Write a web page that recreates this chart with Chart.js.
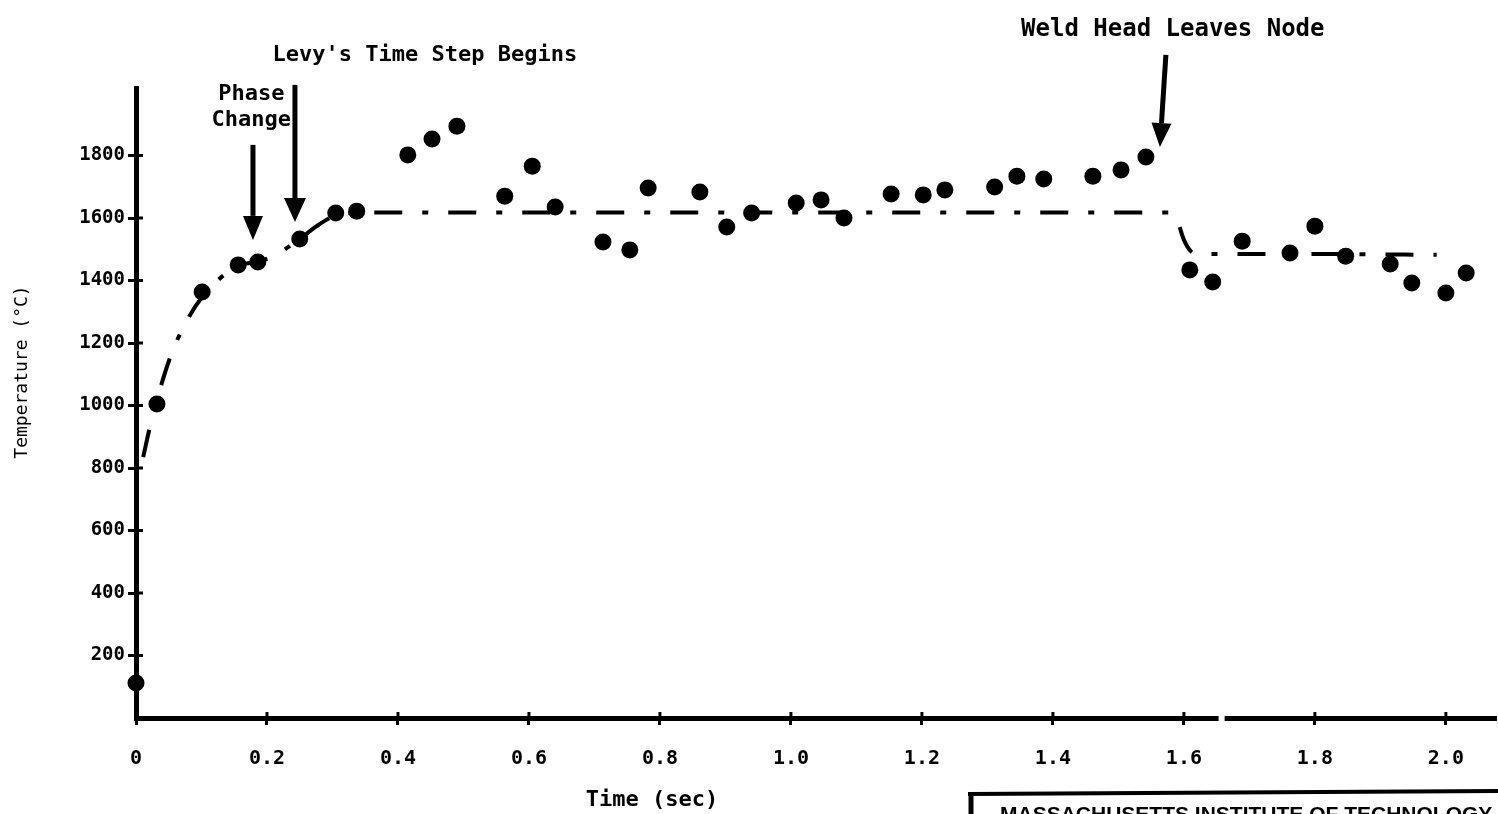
<!DOCTYPE html>
<html>
<head>
<meta charset="utf-8">
<script src="https://cdn.jsdelivr.net/npm/chart.js@4.4.0/dist/chart.umd.min.js"></script>
<style>
  html, body { margin: 0; padding: 0; background: #fff; overflow: hidden; }
  #wrap { width: 1498px; height: 814px; position: relative; }
</style>
</head>
<body>
<div id="wrap"><canvas id="c"></canvas></div>
<script>
// measured temperatures (sec, °C)
const obsTime = [0, 0.032, 0.101, 0.156, 0.186, 0.250, 0.305, 0.337, 0.415, 0.452, 0.490,
  0.563, 0.605, 0.640, 0.713, 0.754, 0.782, 0.861, 0.902, 0.940, 1.008, 1.046, 1.081,
  1.153, 1.202, 1.235, 1.311, 1.345, 1.386, 1.461, 1.504, 1.542,
  1.609, 1.644, 1.689, 1.762, 1.800, 1.847, 1.915, 1.948, 2.000, 2.031];
const obsTemp = [112, 1005, 1363, 1450, 1459, 1533, 1616, 1622, 1802, 1853, 1894,
  1670, 1766, 1635, 1523, 1498, 1696, 1683, 1571, 1616, 1648, 1658, 1600,
  1677, 1674, 1690, 1699, 1734, 1725, 1734, 1754, 1795,
  1434, 1395, 1526, 1488, 1574, 1478, 1453, 1392, 1360, 1424];

// dashed curve (model)
const fitTime = [0.011, 0.02, 0.035, 0.055, 0.08, 0.10, 0.13, 0.16, 0.19, 0.22, 0.25, 0.28,
  0.31, 0.35, 0.6, 1.0, 1.4, 1.578, 1.59, 1.60, 1.61, 1.62, 1.8, 1.986];
const fitTemp = [835, 920, 1040, 1170, 1280, 1345, 1410, 1450, 1462, 1490, 1533, 1580,
  1612, 1618, 1618, 1618, 1618, 1618, 1590, 1530, 1495, 1485, 1485, 1482];

const xTicks = [0, 0.2, 0.4, 0.6, 0.8, 1.0, 1.2, 1.4, 1.6, 1.8, 2.0];
const yTicks = [200, 400, 600, 800, 1000, 1200, 1400, 1600, 1800];

const FONT = '"DejaVu Sans Mono", "Liberation Mono", monospace';

// arrows + notes, placed in data units
const notes = [
  { lines: ['Phase', 'Change'], x: 0.176, y: [1997, 1914], size: 22 },
  { lines: ["Levy's Time Step Begins"], x: 0.441, y: [2122], size: 22 },
  { lines: ['Weld Head Leaves Node'], x: 1.583, y: [2202], size: 24 }
];
const arrows = [
  { x1: 0.1786, y1: 1834, x2: 0.1786, y2: 1530, head: 20 },
  { x1: 0.2427, y1: 2026, x2: 0.2427, y2: 1587, head: 22 },
  { x1: 1.5725, y1: 2122, x2: 1.5634, y2: 1827, head: 20 }
];

const extras = {
  id: 'extras',
  afterDraw(chart) {
    const ctx = chart.ctx;
    const xs = chart.scales.x, ys = chart.scales.y;
    ctx.save();
    ctx.fillStyle = '#000';
    ctx.strokeStyle = '#000';

    // cross tick marks on the inner side
    ctx.lineWidth = 3;
    yTicks.forEach(v => {
      const py = ys.getPixelForValue(v);
      ctx.beginPath(); ctx.moveTo(xs.left, py); ctx.lineTo(xs.left + 7, py); ctx.stroke();
    });
    xTicks.forEach(v => {
      if (v === 0) return;
      const px = xs.getPixelForValue(v);
      ctx.beginPath(); ctx.moveTo(px, ys.bottom); ctx.lineTo(px, ys.bottom - 6); ctx.stroke();
    });

    // break in the time axis
    ctx.fillStyle = '#fff';
    ctx.fillRect(xs.getPixelForValue(1.653), ys.bottom - 6, 6, 14);
    ctx.fillStyle = '#000';

    // arrows
    arrows.forEach(a => {
      const x1 = xs.getPixelForValue(a.x1), y1 = ys.getPixelForValue(a.y1);
      const x2 = xs.getPixelForValue(a.x2), y2 = ys.getPixelForValue(a.y2);
      const ang = Math.atan2(y2 - y1, x2 - x1);
      const hl = 24, hw = a.head / 2;
      const bx = x2 - hl * Math.cos(ang), by = y2 - hl * Math.sin(ang);
      ctx.lineWidth = 5;
      ctx.beginPath(); ctx.moveTo(x1, y1); ctx.lineTo(bx, by); ctx.stroke();
      ctx.beginPath();
      ctx.moveTo(x2, y2);
      ctx.lineTo(bx + hw * Math.sin(ang), by - hw * Math.cos(ang));
      ctx.lineTo(bx - hw * Math.sin(ang), by + hw * Math.cos(ang));
      ctx.closePath(); ctx.fill();
    });

    // notes
    ctx.textAlign = 'center';
    ctx.textBaseline = 'middle';
    notes.forEach(n => {
      ctx.font = 'bold ' + n.size + 'px ' + FONT;
      n.lines.forEach((t, i) => ctx.fillText(t, xs.getPixelForValue(n.x), ys.getPixelForValue(n.y[i])));
    });

    // axis titles
    ctx.font = 'bold 22px ' + FONT;
    ctx.fillText('Time (sec)', 652, 800);
    ctx.save();
    ctx.translate(22, 372);
    ctx.rotate(-Math.PI / 2);
    ctx.font = '18px ' + FONT;
    ctx.fillText('Temperature (°C)', 0, 0);
    ctx.restore();

    // title block at the bottom right
    ctx.lineWidth = 4;
    ctx.beginPath(); ctx.moveTo(968, 794); ctx.lineTo(1498, 791); ctx.stroke();
    ctx.lineWidth = 5;
    ctx.beginPath(); ctx.moveTo(971, 792); ctx.lineTo(971, 814); ctx.stroke();
    ctx.font = 'bold 21px "Liberation Sans", Arial, sans-serif';
    ctx.textAlign = 'left';
    ctx.textBaseline = 'top';
    ctx.fillText('MASSACHUSETTS INSTITUTE OF TECHNOLOGY', 1000, 805);
    ctx.restore();
  }
};

new Chart(document.getElementById('c'), {
  type: 'scatter',
  data: {
    datasets: [
      {
        label: 'Measured',
        data: obsTime.map((t, i) => ({ x: t, y: obsTemp[i] })),
        pointRadius: 8.5,
        pointBackgroundColor: '#000',
        pointBorderWidth: 0,
        showLine: false,
        clip: false
      },
      {
        label: 'Model',
        data: fitTime.map((t, i) => ({ x: t, y: fitTemp[i] })),
        showLine: true,
        borderColor: '#000',
        borderWidth: 4,
        borderDash: [28, 20, 6, 20],
        pointRadius: 0,
        cubicInterpolationMode: 'monotone',
        clip: false
      }
    ]
  },
  options: {
    responsive: true,
    maintainAspectRatio: false,
    animation: false,
    layout: { autoPadding: false, padding: { left: 0, top: 88, right: 3, bottom: 0 } },
    plugins: { legend: { display: false }, tooltip: { enabled: false } },
    scales: {
      x: {
        type: 'linear', min: 0, max: 2.075,
        afterFit: s => { s.height = 96; s.paddingLeft = 0; s.paddingRight = 0; },
        afterBuildTicks: s => { s.ticks = xTicks.map(v => ({ value: v })); },
        grid: { drawOnChartArea: false, drawTicks: true, tickLength: 7, color: '#000', lineWidth: 3 },
        border: { display: true, color: '#000', width: 5 },
        ticks: {
          color: '#000', padding: 22, maxRotation: 0, autoSkip: false,
          font: { family: FONT, size: 20, weight: 'bold' },
          callback: v => v === 0 ? '0' : v.toFixed(1)
        }
      },
      y: {
        type: 'linear', min: 0, max: 2016,
        afterFit: s => { s.width = 136; s.paddingTop = 0; s.paddingBottom = 0; },
        afterBuildTicks: s => { s.ticks = yTicks.map(v => ({ value: v })); },
        grid: { drawOnChartArea: false, drawTicks: true, tickLength: 8, color: '#000', lineWidth: 3 },
        border: { display: true, color: '#000', width: 5 },
        ticks: {
          color: '#000', padding: 3, autoSkip: false,
          font: { family: FONT, size: 19, weight: 'bold' },
          callback: v => String(v)
        }
      }
    }
  },
  plugins: [extras]
});
</script>
</body>
</html>
